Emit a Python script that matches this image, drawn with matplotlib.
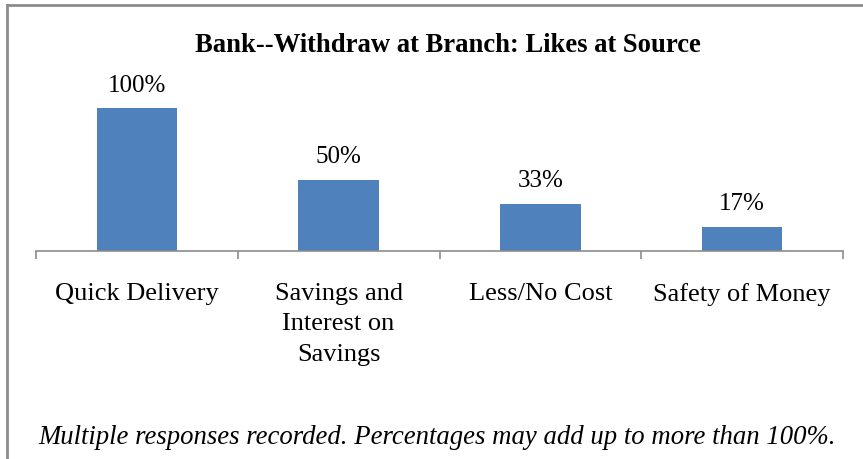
import matplotlib
matplotlib.use("Agg")
import matplotlib.pyplot as plt
from matplotlib.lines import Line2D

categories = ["Quick Delivery", "Savings and\nInterest on\nSavings", "Less/No Cost", "Safety of Money"]
values = [100, 50, 33, 17]
labels = ["100%", "50%", "33%", "17%"]
title = "Bank--Withdraw at Branch: Likes at Source"
footnote = "Multiple responses recorded. Percentages may add up to more than 100%."

SERIF = ["Liberation Serif", "DejaVu Serif"]
plt.rcParams['font.family'] = SERIF

W, H = 863, 459
fig = plt.figure(figsize=(W/100, H/100), dpi=100)

ax = fig.add_axes([36/W, (H-251)/H, 807/W, 171.6/H])
x = list(range(len(categories)))
ax.bar(x, values, width=0.4, color="#4F81BD")
ax.set_xlim(-0.5, 3.5)
ax.set_ylim(0, 120)
for xi, v, l in zip(x, values, labels):
    ax.text(xi, v + 8, l, ha="center", va="bottom", fontsize=18, family=SERIF)
for s in ["top", "right", "left"]:
    ax.spines[s].set_visible(False)
ax.spines["bottom"].set_color("#8c8c8c")
ax.spines["bottom"].set_linewidth(1.2)
ax.set_yticks([])
ax.set_xticks([-0.5, 0.5, 1.5, 2.5, 3.5])
ax.set_xticklabels([])
ax.tick_params(axis="x", length=6, color="#8c8c8c", width=1.2)
ax.set_xticks(x, minor=True)
ax.set_xticklabels(categories, minor=True, fontsize=19, linespacing=1.5, va="top", family=SERIF)
ax.tick_params(axis="x", which="minor", length=0, pad=23)

fig.text(448/W, 1 - 45/H, title, ha="center", va="center", fontsize=19.2, fontweight="bold", family=SERIF)
fig.text(437/W, 1 - 437/H, footnote, ha="center", va="center", fontsize=19.3, style="italic", family=SERIF)

fig.add_artist(Line2D([6.5/W, 1], [1 - 4.5/H, 1 - 4.5/H], color="#8c8c8c", lw=2))
fig.add_artist(Line2D([6.5/W, 6.5/W], [0, 1 - 4.5/H], color="#8c8c8c", lw=2))

fig.savefig("out.png", dpi=100)
